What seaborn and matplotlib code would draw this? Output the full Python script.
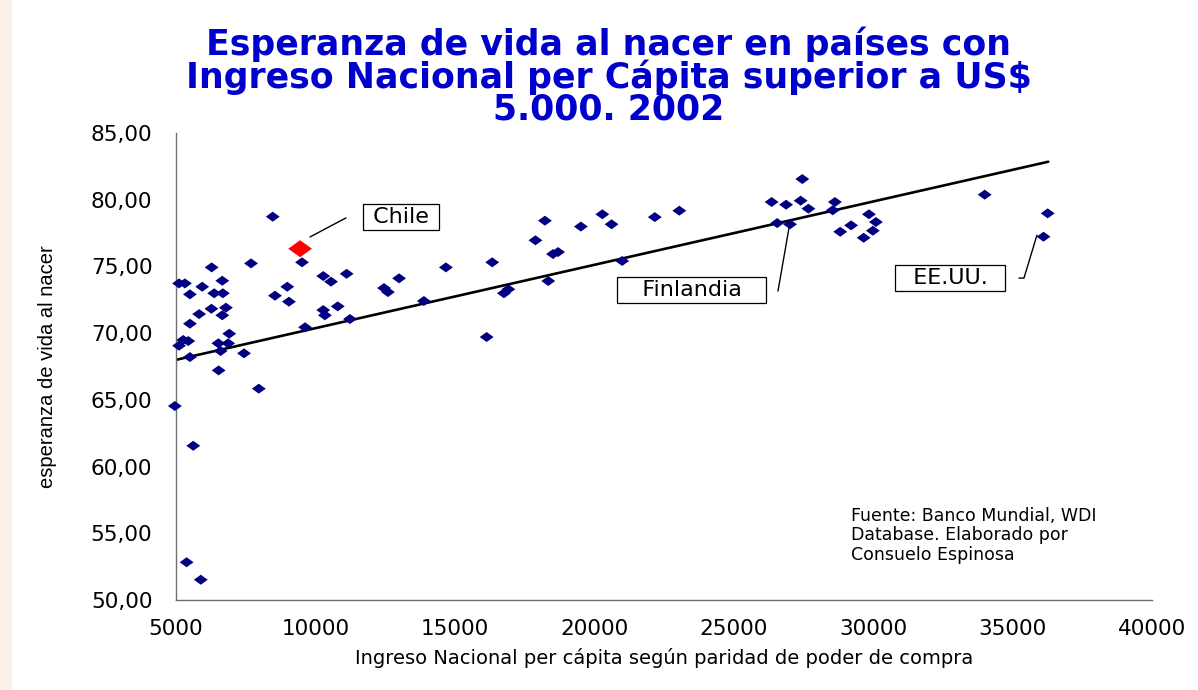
import numpy as np
import pandas as pd
import matplotlib
matplotlib.use("Agg")
import matplotlib.pyplot as plt
from matplotlib.ticker import FuncFormatter, FixedLocator
from matplotlib.patches import Rectangle
import seaborn as sns

# ---------- data ----------
ingreso = [
    8470, 9450, 9520, 6280, 7690, 5110, 5320, 6660, 5940, 5500,
    6370, 6680, 6270, 6790, 5830, 6660, 5500, 6910, 5260, 5440,
    5110, 6520, 6870, 6600, 5500, 7440, 6530, 7970, 4960, 8990,
    8550, 9050, 10280, 10560, 11120, 10280, 10340, 10800, 9630, 11240,
    5620, 5380, 5890, 12460, 12600, 13000, 14680, 13890, 16340, 16140,
    16760, 16920, 17890, 18230, 18520, 18700, 18350, 19520, 20290, 20620,
    21000, 22170, 23050, 27460, 26360, 26880, 27400, 27680, 28630, 28550,
    26560, 27020, 29850, 30100, 29210, 28820, 29990, 29660, 34000, 36260,
    36110,
]
esperanza = [
    78.73, 76.33, 75.31, 74.93, 75.23, 73.73, 73.73, 73.93, 73.48, 72.91,
    72.99, 72.99, 71.83, 71.91, 71.43, 71.34, 70.71, 69.96, 69.49, 69.41,
    69.06, 69.24, 69.24, 68.66, 68.21, 68.49, 67.21, 65.84, 64.54, 73.48,
    72.81, 72.36, 74.28, 73.86, 74.45, 71.73, 71.34, 72.01, 70.44, 71.06,
    61.56, 52.83, 51.52, 73.38, 73.08, 74.11, 74.93, 72.41, 75.31, 69.71,
    72.99, 73.29, 76.96, 78.43, 75.93, 76.08, 73.91, 77.99, 78.91, 78.16,
    75.41, 78.70, 79.18, 81.55, 79.83, 79.63, 79.93, 79.33, 79.83, 79.21,
    78.25, 78.16, 78.91, 78.33, 78.08, 77.60, 77.68, 77.15, 80.38, 78.98,
    77.23,
]
pais = ["" for _ in ingreso]
pais[1] = "Chile"
destacado = ["Chile"]

# linea de tendencia (extremos)
tend_x = [5000, 36280]
tend_y = [68.0, 82.85]

x_ticks = [5000, 10000, 15000, 20000, 25000, 30000, 35000, 40000]
y_ticks = [50, 55, 60, 65, 70, 75, 80, 85]

df = pd.DataFrame({"ingreso": ingreso, "esperanza": esperanza, "pais": pais})
resto = df[~df["pais"].isin(destacado)]
chile = df[df["pais"].isin(destacado)]
tend = pd.DataFrame({"x": tend_x, "y": tend_y})

# ---------- figure ----------
sns.set_style("white")
plt.rcParams["font.family"] = ["DejaVu Sans"]
plt.rcParams["text.color"] = "black"
plt.rcParams["axes.labelcolor"] = "black"

fig = plt.figure(figsize=(11.98, 6.90), dpi=100)
fig.patches.append(Rectangle((0, 0), 0.009, 1, transform=fig.transFigure,
                             color="#fcf0e9", zorder=0))
ax = fig.add_axes([0.1469, 0.1304, 0.8147, 0.6768])

# rombo achatado como el marcador de excel
rombo = [(-1, 0), (0, 0.72), (1, 0), (0, -0.72), (-1, 0)]

sns.lineplot(data=tend, x="x", y="y", color="black", lw=1.9, ax=ax)
sns.scatterplot(data=resto, x="ingreso", y="esperanza", marker=rombo,
                s=100, color="#000080", edgecolor="none", ax=ax, zorder=3,
                clip_on=False)
sns.scatterplot(data=chile, x="ingreso", y="esperanza", marker=rombo,
                s=290, color="#ff0000", edgecolor="none", ax=ax, zorder=4)

ax.set_xlim(5000, 40000)
ax.set_ylim(50, 85)
ax.xaxis.set_major_locator(FixedLocator(x_ticks))
ax.yaxis.set_major_locator(FixedLocator(y_ticks))
ax.yaxis.set_major_formatter(FuncFormatter(lambda v, p: f"{v:.2f}".replace(".", ",")))
ax.xaxis.set_major_formatter(FuncFormatter(lambda v, p: f"{int(v)}"))

for s in ["top", "right"]:
    ax.spines[s].set_visible(False)
for s in ["left", "bottom"]:
    ax.spines[s].set_color("#707070")
    ax.spines[s].set_linewidth(1.0)
ax.tick_params(axis="y", direction="out", length=8, width=1, color="#707070",
               labelcolor="black", labelsize=15.5, pad=9)
ax.tick_params(axis="x", direction="out", length=5, width=1, color="#707070",
               labelcolor="black", labelsize=15.5, pad=9)
ax.grid(False)

ax.set_xlabel("Ingreso Nacional per cápita según paridad de poder de compra",
              fontsize=14, labelpad=6)
ax.set_ylabel("esperanza de vida al nacer", fontsize=14.5, labelpad=24,
              family=["Liberation Sans Narrow", "Liberation Sans", "DejaVu Sans"])

fig.text(0.508, 0.962,
         "Esperanza de vida al nacer en países con\n"
         "Ingreso Nacional per Cápita superior a US$\n"
         "5.000. 2002",
         ha="center", va="top", fontsize=25, fontweight="bold",
         color="#0000CC", linespacing=0.92)

# ---------- etiquetas con lineas guia ----------
caja = dict(boxstyle="square,pad=0.15", fc="white", ec="black", lw=0.9)
ax.text(13070, 78.7, " Chile ", ha="center", va="center", fontsize=16, bbox=caja)
ax.plot([9805, 11096], [77.21, 78.64], color="black", lw=1)

ax.text(23500, 73.23, "   Finlandia   ", ha="center", va="center", fontsize=16, bbox=caja)
ax.plot([26588, 26982], [73.16, 77.88], color="black", lw=1)

ax.text(32760, 74.13, "  EE.UU.  ", ha="center", va="center", fontsize=16, bbox=caja)
ax.plot([35230, 35409, 35875], [74.13, 74.13, 77.35], color="black", lw=1)

ax.text(0.692, 0.2, "Fuente: Banco Mundial, WDI\nDatabase. Elaborado por\nConsuelo Espinosa",
        transform=ax.transAxes, ha="left", va="top", fontsize=12.5,
        linespacing=1.12)

fig.savefig("out.png", dpi=100, facecolor="white")
